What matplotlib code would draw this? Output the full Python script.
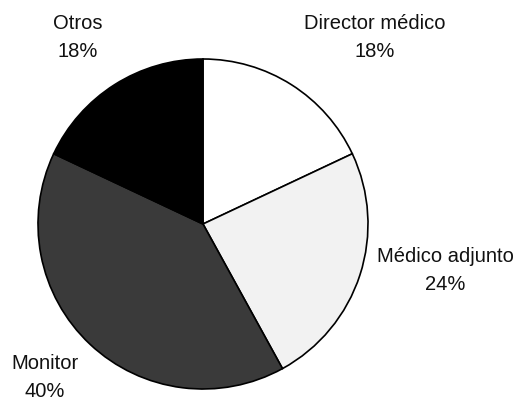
import matplotlib.pyplot as plt

categorias = ['Director médico', 'Médico adjunto', 'Monitor', 'Otros']
porcentajes = [18, 24, 40, 18]
colores = ['#ffffff', '#f2f2f2', '#3a3a3a', '#000000']

# posiciones de las etiquetas (en radios del pastel, centro = 0,0)
pos_etiquetas = [(1.04, 1.13), (1.47, -0.28), (-0.96, -0.93), (-0.76, 1.13)]

plt.rcParams['font.family'] = ['Liberation Sans', 'DejaVu Sans']

fig = plt.figure(figsize=(5.32, 4.01), dpi=100)
ax = fig.add_axes([0, 0, 1, 1])
ax.pie(porcentajes, colors=colores, startangle=90, counterclock=False,
       wedgeprops={'edgecolor': 'black', 'linewidth': 1.2})

for cat, p, (x, y) in zip(categorias, porcentajes, pos_etiquetas):
    ax.text(x, y, f'{cat}\n{p}%', ha='center', va='center',
            fontsize=14.5, linespacing=1.6, color='#111111')

ax.set_xlim(-203 / 165, (532 - 203) / 165)
ax.set_ylim(-177 / 165, (401 - 177) / 165)
ax.axis('off')

fig.savefig('out.png', dpi=100)
